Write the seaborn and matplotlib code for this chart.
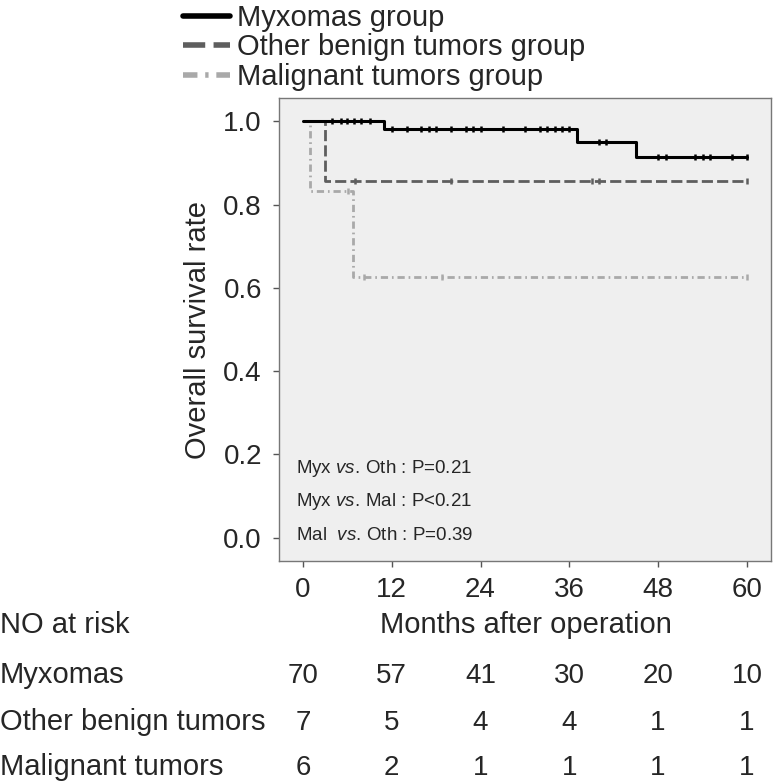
import numpy as np
import pandas as pd
import matplotlib
matplotlib.use("Agg")
import matplotlib.pyplot as plt
from matplotlib import font_manager
from matplotlib.lines import Line2D
import seaborn as sns

# --- data ---
groups = ["Myxomas group", "Other benign tumors group", "Malignant tumors group"]

myx_times = [0, 11, 37, 45, 60]
myx_surv = [1.0, 0.982, 0.950, 0.913, 0.913]
myx_cens = [3.9, 5.1, 6.0, 6.9, 7.9, 9.0, 12, 14, 16, 17, 18, 20, 22, 23, 24,
            27, 30, 32, 33, 34, 35, 36, 40, 41, 48, 49, 53, 54, 55, 58, 60]

oth_times = [0, 3, 60]
oth_surv = [1.0, 0.857, 0.857]
oth_cens = [7, 20, 39, 40, 60]

mal_times = [0, 1, 6.8, 60]
mal_surv = [1.0, 0.833, 0.625, 0.625]
mal_cens = [6.1, 8.2, 18.8, 60]

risk_months = [0, 12, 24, 36, 48, 60]
risk_rows = ["Myxomas", "Other benign tumors", "Malignant tumors"]
risk_myx = [70, 57, 41, 30, 20, 10]
risk_oth = [7, 5, 4, 4, 1, 1]
risk_mal = [6, 2, 1, 1, 1, 1]

p_lines = ["Myx $\\mathit{vs.}\\,$Oth : P=0.21",
           "Myx $\\mathit{vs.}\\,$Mal : P<0.21",
           "Mal  $\\mathit{vs.}\\,$Oth : P=0.39"]

# --- style ---
sns.set_theme(style="white")
installed = {f.name for f in font_manager.fontManager.ttflist}
narrow = "Liberation Sans Narrow" if "Liberation Sans Narrow" in installed else "Liberation Sans"
plt.rcParams["font.family"] = ["Liberation Sans", "DejaVu Sans"]
plt.rcParams["mathtext.fontset"] = "custom"
plt.rcParams["mathtext.rm"] = narrow
plt.rcParams["mathtext.it"] = narrow + ":italic"

colors = ["#000000", "#5e5e5e", "#a9a9a9"]
dash_styles = [None, (4, 1.5), (2.6, 1.4, 0.6, 1.4)]
widths = [2.2, 2.0, 2.0]

fig = plt.figure(figsize=(7.76, 7.84), dpi=100)
ax = fig.add_axes([0.359, 0.2848, 0.634, 0.5898])
ax.set_facecolor("#efefef")

curves = [(myx_times, myx_surv, myx_cens),
          (oth_times, oth_surv, oth_cens),
          (mal_times, mal_surv, mal_cens)]

for k, ((t, s, c), col, ds, lw) in enumerate(zip(curves, colors, dash_styles, widths)):
    df = pd.DataFrame({"t": t, "s": s})
    sns.lineplot(data=df, x="t", y="s", ax=ax, color=col, lw=lw,
                 drawstyle="steps-post", estimator=None, zorder=3 - k)
    line = ax.lines[-1]
    if ds is not None:
        line.set_dashes(ds)
    # censor marks sit on the step curve
    idx = np.searchsorted(np.array(t), np.array(c), side="right") - 1
    cens_y = np.array(s)[idx]
    sns.scatterplot(x=c, y=cens_y, ax=ax, marker="|", s=18, color=col,
                    linewidth=1.8, zorder=4)

ax.set_xlim(-3.3, 63.2)
ax.set_ylim(-0.055, 1.055)
ax.set_xticks(risk_months)
ax.set_yticks([0.0, 0.2, 0.4, 0.6, 0.8, 1.0])
ax.set_yticklabels([f"{v:.1f}" for v in [0.0, 0.2, 0.4, 0.6, 0.8, 1.0]])
ax.tick_params(axis="both", direction="out", length=4, width=1, color="#555555",
               labelsize=20, pad=8, bottom=True, left=True)
for sp in ax.spines.values():
    sp.set_color("#777777")
    sp.set_linewidth(1.0)
ax.set_xlabel("")
ax.set_ylabel("Overall survival rate", fontsize=21, labelpad=8)

for i, txt in enumerate(p_lines):
    ax.text(0.035, 0.200 - i * 0.073, txt, transform=ax.transAxes,
            fontsize=13.5, family=narrow, va="center", ha="left")

# legend at top
handles = [Line2D([], [], color=col, lw=4, dashes=ds if ds else (None, None))
           for col, ds in zip(colors, dash_styles)]
fig.legend(handles, groups, loc="upper left", bbox_to_anchor=(183 / 776, 1 - 4 / 784),
           frameon=False, fontsize=21, handlelength=1.6, handletextpad=0.25,
           labelspacing=0.05, borderpad=0, borderaxespad=0)

# number-at-risk table
H = 784
fig.text(0.0, 1 - 633 / H, "NO at risk", fontsize=21, va="baseline", ha="left")
fig.text(526 / 776, 1 - 633 / H, "Months after operation", fontsize=21,
         va="baseline", ha="center")
trans = matplotlib.transforms.blended_transform_factory(ax.transData, fig.transFigure)
for row_name, vals, base in zip(risk_rows, [risk_myx, risk_oth, risk_mal], [683, 730, 775]):
    fig.text(0.0, 1 - base / H, row_name, fontsize=21, va="baseline", ha="left")
    for m, v in zip(risk_months, vals):
        ax.text(m, 1 - base / H, str(v), transform=trans, fontsize=20,
                va="baseline", ha="center", clip_on=False)

fig.savefig("out.png", dpi=100)
